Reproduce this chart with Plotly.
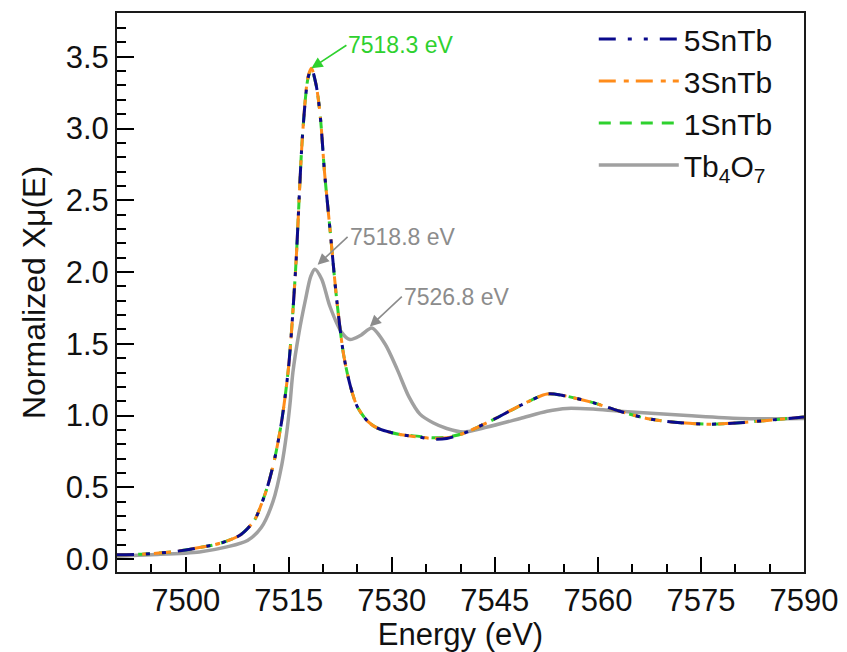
import plotly.graph_objects as go

# ---- data ----
e_doped = [7490, 7494, 7498, 7502, 7505, 7508, 7510, 7511, 7512, 7513, 7514, 7515, 7516, 7517,
           7517.8, 7518.3, 7519, 7519.6, 7520.2, 7521, 7522, 7523, 7524, 7525, 7526.5, 7528,
           7531, 7534, 7536, 7538, 7540.4, 7544.7, 7548.7, 7552.6, 7554.9, 7559.3, 7563.2,
           7567.1, 7572, 7576.3, 7580.7, 7585.5, 7590]
sn5 = [0.03, 0.035, 0.05, 0.08, 0.11, 0.17, 0.27, 0.38, 0.52, 0.71, 0.97, 1.35, 2.02, 2.95,
       3.35, 3.42, 3.30, 3.08, 2.70, 2.30, 1.80, 1.42, 1.20, 1.06, 0.96, 0.91,
       0.87, 0.85, 0.835, 0.84, 0.875, 0.97, 1.07, 1.15, 1.14, 1.09, 1.03,
       0.98, 0.95, 0.94, 0.95, 0.97, 0.99]
sn3 = [0.03, 0.035, 0.05, 0.08, 0.11, 0.17, 0.27, 0.38, 0.52, 0.71, 0.97, 1.35, 2.02, 2.95,
       3.36, 3.42, 3.30, 3.08, 2.70, 2.30, 1.80, 1.42, 1.20, 1.06, 0.96, 0.91,
       0.87, 0.85, 0.84, 0.845, 0.875, 0.97, 1.07, 1.15, 1.14, 1.09, 1.03,
       0.98, 0.95, 0.94, 0.95, 0.97, 0.99]
sn1 = [0.03, 0.035, 0.05, 0.08, 0.11, 0.17, 0.27, 0.38, 0.52, 0.71, 0.97, 1.35, 2.02, 2.95,
       3.35, 3.41, 3.30, 3.08, 2.70, 2.30, 1.80, 1.42, 1.20, 1.06, 0.96, 0.91,
       0.87, 0.855, 0.845, 0.85, 0.875, 0.97, 1.07, 1.15, 1.14, 1.09, 1.03,
       0.98, 0.95, 0.94, 0.95, 0.97, 0.99]

e_ref = [7490, 7495, 7502, 7506, 7509, 7511, 7512.7, 7514, 7514.7, 7515.2, 7515.6, 7516.5,
         7517.4, 7518.2, 7518.8, 7519.8, 7521, 7522.7, 7523.9, 7525.5, 7527.1, 7529,
         7530.8, 7532.5, 7534.1, 7536, 7538, 7540.4, 7543.9, 7548.7, 7552.6, 7555.5, 7559.3,
         7563.2, 7573, 7580.7, 7590]
tb4o7 = [0.02, 0.03, 0.05, 0.085, 0.13, 0.22, 0.40, 0.66, 0.88, 1.09, 1.30, 1.58,
         1.80, 1.97, 2.02, 1.95, 1.76, 1.58, 1.53, 1.56, 1.61, 1.50,
         1.32, 1.13, 1.01, 0.95, 0.91, 0.885, 0.92, 0.98, 1.03, 1.05, 1.045,
         1.03, 1.00, 0.98, 0.98]

peak_labels = ["7518.3 eV", "7518.8 eV", "7526.8 eV"]
peak_x = [7518.3, 7519.2, 7526.8]
peak_y = [3.42, 2.05, 1.62]

x_ticks = [7500, 7515, 7530, 7545, 7560, 7575, 7590]
y_ticks = [0.0, 0.5, 1.0, 1.5, 2.0, 2.5, 3.0, 3.5]
x_range = [7490, 7590]
y_range = [-0.09, 3.805]
x_minor_step = 5
y_minor_step = 0.1

FONT = "Liberation Sans, Arial, sans-serif"
BLUE = "#0a0a8c"
ORANGE = "#ff8c1a"
GREEN = "#2ed12e"
GRAY = "#a0a0a0"
LABGRAY = "#8c8c8c"
AXC = "#1a1a1a"

fig = go.Figure()
fig.add_trace(go.Scatter(x=e_ref, y=tb4o7, mode="lines", name="Tb<sub>4</sub>O<sub>7</sub>",
                         line=dict(color=GRAY, width=3.5, shape="spline", smoothing=0.8)))
fig.add_trace(go.Scatter(x=e_doped, y=sn1, mode="lines", name="1SnTb",
                         line=dict(color=GREEN, width=3, dash="12px,9px", shape="spline", smoothing=0.8)))
fig.add_trace(go.Scatter(x=e_doped, y=sn3, mode="lines", name="3SnTb",
                         line=dict(color=ORANGE, width=3, dash="17px,8px,5px,7px", shape="spline", smoothing=0.8)))
fig.add_trace(go.Scatter(x=e_doped, y=sn5, mode="lines", name="5SnTb",
                         line=dict(color=BLUE, width=3, dash="17px,12px,4px,12px,4px,12px", shape="spline", smoothing=0.8)))

# peak annotations with arrows
offsets = [(35, -23), (30, -28), (32, -30)]
colors = [GREEN, LABGRAY, LABGRAY]
for lab, px, py, (ox, oy), c in zip(peak_labels, peak_x, peak_y, offsets, colors):
    fig.add_annotation(x=px, y=py, text=lab, showarrow=True, ax=ox, ay=oy,
                       xanchor="left", yanchor="middle", arrowhead=2, arrowsize=1.4,
                       arrowwidth=1.6, arrowcolor=c, font=dict(family=FONT, size=23, color=c))

fig.update_layout(
    width=847, height=652,
    margin=dict(l=117, r=43, t=13, b=80),
    paper_bgcolor="white", plot_bgcolor="white",
    font=dict(family=FONT, color="#111111"),
    showlegend=True,
    legend=dict(x=0.694, y=1.0, xanchor="left", yanchor="top", traceorder="reversed",
                bgcolor="rgba(0,0,0,0)", font=dict(family=FONT, size=30, color="#111111"),
                itemwidth=80, tracegroupgap=0),
)
fig.update_xaxes(
    range=x_range, tickmode="array", tickvals=x_ticks,
    ticks="inside", ticklen=15, tickwidth=2, tickcolor="black",
    minor=dict(tickmode="linear", tick0=x_ticks[0], dtick=x_minor_step,
               ticks="inside", ticklen=8, tickwidth=2, tickcolor="black", showgrid=False),
    showline=True, linecolor=AXC, linewidth=2, mirror=True, showgrid=False, zeroline=False,
    tickfont=dict(family=FONT, size=31, color="#111"), automargin=False,
    title=dict(text="Energy (eV)", font=dict(family=FONT, size=31, color="#111"), standoff=4),
)
fig.update_yaxes(
    range=y_range, tickmode="array", tickvals=y_ticks, ticktext=[f"{v:.1f}" for v in y_ticks],
    ticks="inside", ticklen=17, tickwidth=2, tickcolor="black",
    minor=dict(tickmode="linear", tick0=y_ticks[0], dtick=y_minor_step,
               ticks="inside", ticklen=9, tickwidth=2, tickcolor="black", showgrid=False),
    showline=True, linecolor=AXC, linewidth=2, mirror=True, showgrid=False, zeroline=False,
    tickfont=dict(family=FONT, size=31, color="#111"), automargin=False,
    title=dict(text="Normalized Xμ(E)", font=dict(family=FONT, size=32, color="#111"), standoff=10),
)

fig.write_html("out.html")
